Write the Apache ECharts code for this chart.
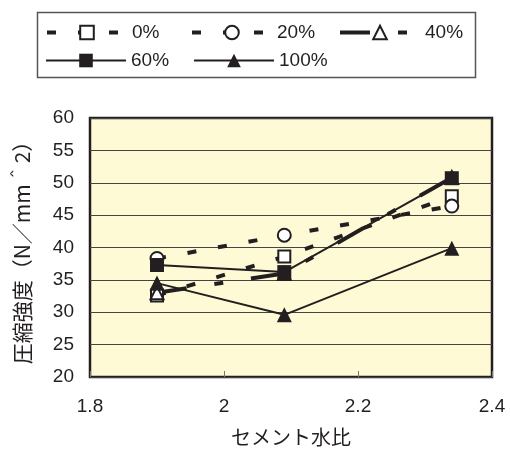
<!DOCTYPE html>
<html>
<head>
<meta charset="utf-8">
<script src="https://cdn.jsdelivr.net/npm/echarts@6/dist/echarts.min.js"></script>
<style>
  html, body { margin: 0; padding: 0; background: #fff; }
  #chart { width: 510px; height: 454px; }
</style>
</head>
<body>
<div id="chart"></div>
<script>
// Cement-water ratio (x) and compressive strength for each replacement rate
const cementWaterRatio = [1.9, 2.09, 2.34];
const strength0   = [32.6, 38.6, 47.9];
const strength20  = [38.3, 41.9, 46.4];
const strength40  = [33.0, 36.0, 50.8];
const strength60  = [37.3, 36.2, 50.7];
const strength100 = [34.5, 29.6, 39.9];

const seriesNames = ['0%', '20%', '40%', '60%', '100%'];
const yTicks = { min: 20, max: 60, step: 5 };
const xTicks = { min: 1.8, max: 2.4, step: 0.2 };

const ink = '#231f20';
const fontFamily = '"Liberation Sans", Arial, sans-serif';
const cjkFont = '"Noto Sans CJK JP", sans-serif';

function pairs(values) {
  return cementWaterRatio.map((x, i) => [x, values[i]]);
}

// line styles shared by the plotted series and their legend entries
const lineStyles = {
  '0%':   { width: 4, type: [9, 22] },
  '20%':  { width: 4, type: [9, 22] },
  '40%':  { width: 4, type: [30, 28, 9, 28] },
  '60%':  { width: 2, type: 'solid' },
  '100%': { width: 2, type: 'solid' }
};

function makeSeries(name, values, symbol, size, fill) {
  return {
    name: name,
    type: 'line',
    data: pairs(values),
    symbol: symbol,
    symbolSize: size,
    showAllSymbol: true,
    lineStyle: Object.assign({ color: ink }, lineStyles[name]),
    itemStyle: { color: fill || ink, borderColor: ink, borderWidth: fill ? 2 : 0 },
    emphasis: { disabled: true },
    animation: false,
    z: 3
  };
}

const series = [
  makeSeries('0%',   strength0,   'rect',     12, '#ffffff'),
  makeSeries('20%',  strength20,  'circle',   13, '#ffffff'),
  makeSeries('40%',  strength40,  'triangle', 13, '#ffffff'),
  makeSeries('60%',  strength60,  'rect',     14),
  makeSeries('100%', strength100, 'triangle', 15)
];

// One legend block per entry so the entries sit in fixed columns
const legendSlots = [
  { name: '0%',   left: 45,  top: 23 },
  { name: '20%',  left: 190, top: 23 },
  { name: '40%',  left: 338, top: 23 },
  { name: '60%',  left: 45,  top: 51 },
  { name: '100%', left: 193, top: 51 }
];
const legends = legendSlots.map(s => ({
  data: [s.name],
  left: s.left,
  top: s.top,
  padding: 0,
  itemWidth: 80,
  itemHeight: 17,
  itemGap: 0,
  selectedMode: false,
  lineStyle: Object.assign({ color: ink }, lineStyles[s.name]),
  textStyle: { color: ink, fontSize: 19, fontFamily: fontFamily }
}));

const chart = echarts.init(document.getElementById('chart'), null, { renderer: 'canvas' });
chart.setOption({
  backgroundColor: '#ffffff',
  animation: false,
  legend: legends,
  graphic: [{
    type: 'rect',
    shape: { x: 37.5, y: 12.5, width: 438, height: 65 },
    style: { fill: 'none', stroke: '#555', lineWidth: 1.5 },
    silent: true
  }],
  grid: {
    left: 90, right: 18, top: 118, bottom: 77,
    show: true,
    backgroundColor: '#fffad6',
    borderColor: ink,
    borderWidth: 2.5
  },
  xAxis: {
    type: 'value',
    min: xTicks.min, max: xTicks.max, interval: xTicks.step,
    name: 'セメント水比',
    nameLocation: 'middle',
    nameGap: 50,
    nameTextStyle: { color: ink, fontSize: 20, fontFamily: cjkFont },
    axisLine: { show: false },
    axisTick: { show: true, inside: true, length: 6, lineStyle: { color: '#777', width: 1 } },
    splitLine: { show: false },
    axisLabel: { color: ink, fontSize: 19, fontFamily: fontFamily, margin: 20 }
  },
  yAxis: {
    type: 'value',
    min: yTicks.min, max: yTicks.max, interval: yTicks.step,
    name: '圧縮強度（N／mm＾2）',
    nameLocation: 'middle',
    nameRotate: 90,
    nameGap: 57,
    nameTextStyle: { color: ink, fontSize: 21, fontFamily: cjkFont },
    axisLine: { show: false },
    axisTick: { show: false },
    splitLine: { show: true, lineStyle: { color: '#444', width: 1 } },
    axisLabel: { color: ink, fontSize: 19, fontFamily: fontFamily, margin: 16 }
  },
  series: series
});
</script>
</body>
</html>
